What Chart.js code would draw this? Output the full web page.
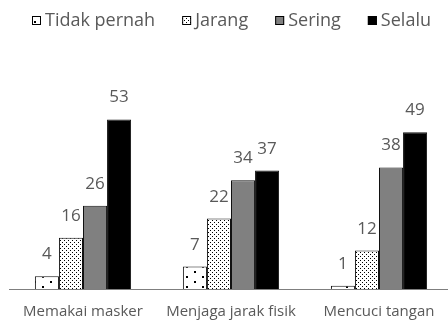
<!DOCTYPE html>
<html>
<head>
<meta charset="utf-8">
<script src="https://cdn.jsdelivr.net/npm/chart.js@4.4.1/dist/chart.umd.min.js"></script>
<style>
  html, body { margin: 0; padding: 0; background: #fff; overflow: hidden; }
  #wrap { width: 454px; height: 322px; }
</style>
</head>
<body>
<div id="wrap"><canvas id="myBarChart" width="454" height="322"></canvas></div>
<script>
const categories = ["Memakai masker", "Menjaga jarak fisik", "Mencuci tangan"];
const seriesNames = ["Tidak pernah", "Jarang", "Sering", "Selalu"];
const tidakPernah = [4, 7, 1];
const jarang = [16, 22, 12];
const sering = [26, 34, 38];
const selalu = [53, 37, 49];

const textColor = "#595959";
const fontFamily = "'Open Sans', sans-serif";

// small repeating tiles for the two dotted fills
function makePattern(w, h, dots, size) {
  const c = document.createElement("canvas");
  c.width = w;
  c.height = h;
  const g = c.getContext("2d");
  g.fillStyle = "#fff";
  g.fillRect(0, 0, w, h);
  g.fillStyle = "#000";
  dots.forEach(([x, y]) => g.fillRect(x, y, size, size));
  return g.createPattern(c, "repeat");
}

const sparseDots = makePattern(16, 10, [[2, 1], [10, 6]], 2);
const denseDots = makePattern(4, 4, [[0, 0], [2, 2]], 1);

const fills = [sparseDots, denseDots, "#808080", "#000000"];
const values = [tidakPernah, jarang, sering, selalu];

// value above each bar
const valueLabels = {
  id: "valueLabels",
  afterDatasetsDraw(chart) {
    const ctx = chart.ctx;
    ctx.save();
    ctx.font = "17px " + fontFamily;
    ctx.fillStyle = textColor;
    ctx.textAlign = "center";
    ctx.textBaseline = "alphabetic";
    chart.data.datasets.forEach((ds, i) => {
      chart.getDatasetMeta(i).data.forEach((bar, j) => {
        ctx.fillText(String(ds.data[j]), bar.x, bar.y - 17);
      });
    });
    ctx.restore();
  }
};

// legend row across the top
const topLegend = {
  id: "topLegend",
  afterDraw(chart) {
    const ctx = chart.ctx;
    const box = 9, gapText = 4, gapItem = 27, midY = 20;
    ctx.save();
    ctx.font = "18px " + fontFamily;
    const widths = seriesNames.map(n => ctx.measureText(n).width);
    const total = widths.reduce((a, w) => a + box + gapText + w, 0) + gapItem * (seriesNames.length - 1);
    const area = chart.chartArea;
    let x = Math.round((area.left + area.right) / 2 - total / 2);
    ctx.textBaseline = "middle";
    ctx.textAlign = "left";
    chart.data.datasets.forEach((ds, i) => {
      const top = Math.round(midY - box / 2);
      ctx.fillStyle = ds.backgroundColor;
      ctx.fillRect(x, top, box, box);
      ctx.strokeStyle = "#000";
      ctx.lineWidth = 1;
      ctx.strokeRect(x + 0.5, top + 0.5, box - 1, box - 1);
      ctx.fillStyle = textColor;
      ctx.fillText(ds.label, x + box + gapText, midY + 1);
      x += box + gapText + widths[i] + gapItem;
    });
    ctx.restore();
  }
};

const datasets = seriesNames.map((name, i) => ({
  label: name,
  data: values[i],
  backgroundColor: fills[i],
  borderColor: "#111",
  borderWidth: 1,
  categoryPercentage: 0.65,
  barPercentage: 1.0
}));

new Chart(document.getElementById("myBarChart").getContext("2d"), {
  type: "bar",
  data: {
    labels: categories,
    datasets: datasets
  },
  options: {
    responsive: false,
    animation: false,
    devicePixelRatio: 1,
    layout: { padding: { left: 9, right: 1, top: 97, bottom: 0 } },
    plugins: {
      legend: { display: false },
      tooltip: { enabled: false }
    },
    scales: {
      x: {
        grid: { display: false },
        border: { display: true, color: "#7f7f7f", width: 1 },
        ticks: {
          color: textColor,
          font: { family: fontFamily, size: 15 },
          padding: 6,
          maxRotation: 0
        },
        afterFit(scale) { scale.height = 33; }
      },
      y: {
        display: false,
        min: 0,
        max: 60
      }
    }
  },
  plugins: [valueLabels, topLegend]
});
</script>
</body>
</html>
